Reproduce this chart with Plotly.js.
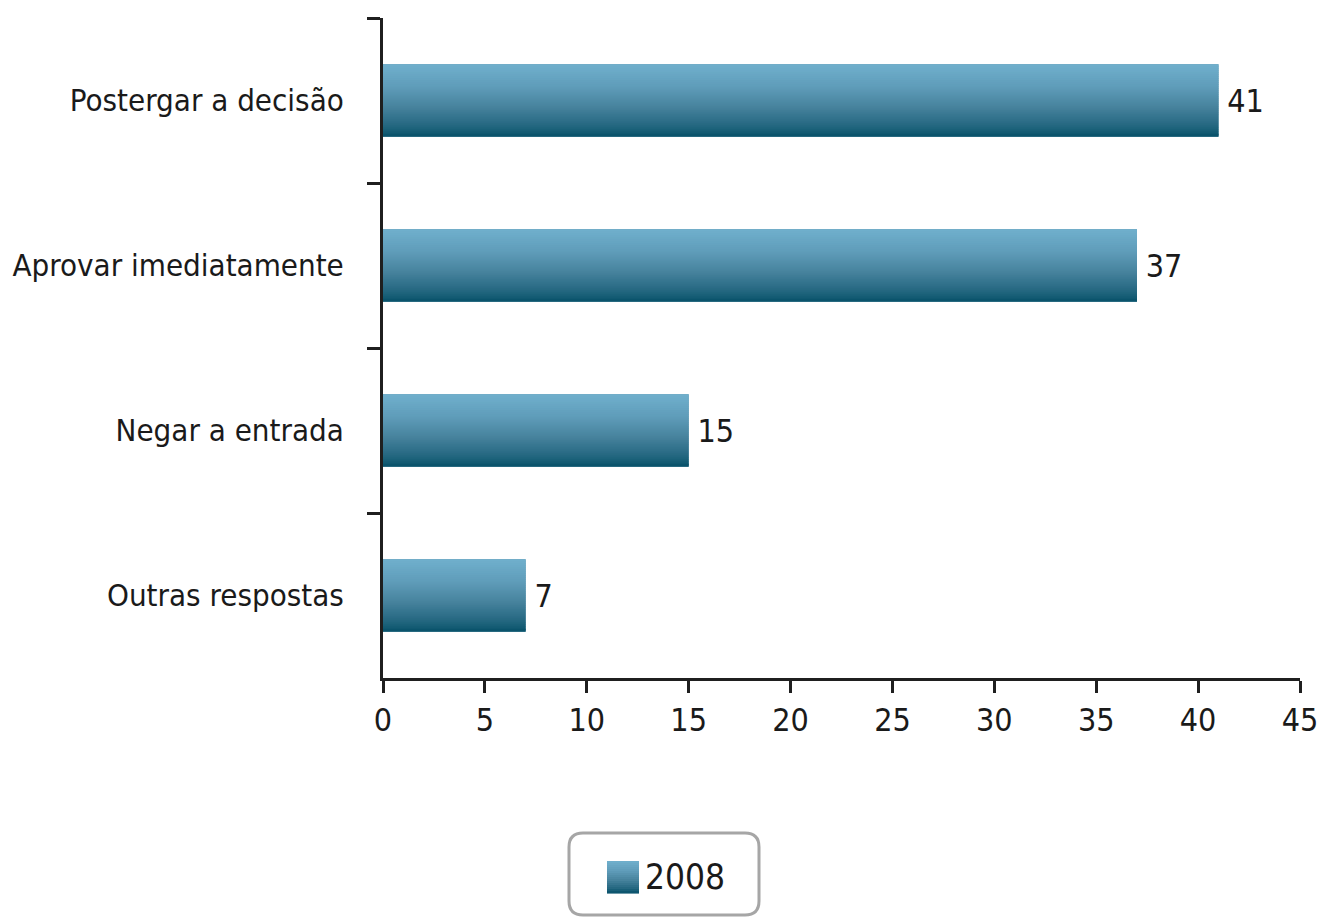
<!DOCTYPE html>
<html>
<head>
<meta charset="utf-8">
<script src="https://cdn.plot.ly/plotly-3.0.1.min.js"></script>
<style>
html,body{margin:0;padding:0;background:#fff;}
#chart{width:1322px;height:918px;}
</style>
</head>
<body>
<div id="chart"></div>
<script>
// ---- data ----
const categories = ["Postergar a decisão", "Aprovar imediatamente", "Negar a entrada", "Outras respostas"];
const values = [41, 37, 15, 7];
const seriesName = "2008";
const xTickVals = [0, 5, 10, 15, 20, 25, 30, 35, 40, 45];

// ---- style ----
const FONT = '"DejaVu Sans Condensed", "Liberation Sans Narrow", "Arial Narrow", sans-serif';
const W = 1322, H = 918;
const M = {l: 383, r: 22, t: 18, b: 240};
const BAR_W = 0.44;
const NSTRIPS = 36;
const stops = [
  [0.00, [112, 176, 205]],
  [0.30, [96, 157, 186]],
  [0.60, [70, 130, 156]],
  [0.85, [36, 103, 128]],
  [1.00, [8, 82, 106]]
];
function gradColor(t) {
  for (let i = 0; i < stops.length - 1; i++) {
    const [t0, c0] = stops[i], [t1, c1] = stops[i + 1];
    if (t >= t0 && t <= t1) {
      const f = (t - t0) / (t1 - t0);
      const c = c0.map((v, k) => Math.round(v + (c1[k] - v) * f));
      return `rgb(${c[0]},${c[1]},${c[2]})`;
    }
  }
  const c = stops[stops.length - 1][1];
  return `rgb(${c[0]},${c[1]},${c[2]})`;
}

const traces = [];
// base bar (carries the value labels)
traces.push({
  type: 'bar', orientation: 'h', name: seriesName,
  x: values, y: categories, width: BAR_W,
  marker: {color: gradColor(0.5), line: {width: 0}},
  text: values.map(String), textposition: 'outside', cliponaxis: false,
  texttemplate: '\u2009%{text}',
  textfont: {family: FONT, size: 32, color: '#1a1a1a'},
  hoverinfo: 'skip', showlegend: false
});
// gradient strips (top light -> bottom dark); y axis reversed so +offset = down
const s = BAR_W / NSTRIPS;
for (let i = 0; i < NSTRIPS; i++) {
  traces.push({
    type: 'bar', orientation: 'h', name: seriesName,
    x: values, y: categories,
    width: s + 0.004, offset: -BAR_W / 2 + i * s - (i === NSTRIPS - 1 ? 0.004 : 0),
    marker: {color: gradColor((i + 0.5) / NSTRIPS), line: {width: 0}},
    textposition: 'none', hoverinfo: 'skip', showlegend: false
  });
}

// legend drawn from shapes + annotation (pixel positions -> paper)
const PW = W - M.l - M.r, PH = H - M.t - M.b;
const px2x = px => (px - M.l) / PW;
const py2y = py => (H - M.b - py) / PH;
const shapes = [];
// rounded box
(function () {
  const x0 = 569, x1 = 759, y0 = 833, y1 = 915, r = 14;
  const X = px2x, Y = py2y;
  const path = `M ${X(x0 + r)} ${Y(y0)} L ${X(x1 - r)} ${Y(y0)} Q ${X(x1)} ${Y(y0)} ${X(x1)} ${Y(y0 + r)} ` +
    `L ${X(x1)} ${Y(y1 - r)} Q ${X(x1)} ${Y(y1)} ${X(x1 - r)} ${Y(y1)} ` +
    `L ${X(x0 + r)} ${Y(y1)} Q ${X(x0)} ${Y(y1)} ${X(x0)} ${Y(y1 - r)} ` +
    `L ${X(x0)} ${Y(y0 + r)} Q ${X(x0)} ${Y(y0)} ${X(x0 + r)} ${Y(y0)} Z`;
  shapes.push({type: 'path', xref: 'paper', yref: 'paper', path: path,
    line: {color: '#a6a6a6', width: 3}, fillcolor: 'rgba(0,0,0,0)'});
})();
// legend swatch with gradient
(function () {
  const x0 = 607, x1 = 639, y0 = 861, y1 = 893, n = 16;
  const h = (y1 - y0) / n;
  for (let i = 0; i < n; i++) {
    shapes.push({type: 'rect', xref: 'paper', yref: 'paper',
      x0: px2x(x0), x1: px2x(x1), y0: py2y(y0 + i * h), y1: py2y(y0 + (i + 1) * h + 0.6),
      fillcolor: gradColor((i + 0.5) / n), line: {width: 0}});
  }
})();

const layout = {
  width: W, height: H,
  margin: M,
  paper_bgcolor: '#fff', plot_bgcolor: '#fff',
  barmode: 'overlay',
  showlegend: false,
  font: {family: FONT, color: '#1a1a1a'},
  xaxis: {
    range: [0, 45], tickvals: xTickVals, ticktext: xTickVals.map(String),
    showgrid: false, zeroline: false,
    showline: true, linecolor: '#1f1f1f', linewidth: 3,
    ticks: 'outside', ticklen: 12, tickwidth: 3, tickcolor: '#1f1f1f',
    tickfont: {family: FONT, size: 32, color: '#1a1a1a'},
    fixedrange: true
  },
  yaxis: {
    type: 'category', categoryorder: 'array', categoryarray: categories,
    range: [3.5, -0.5], tickson: 'boundaries',
    showgrid: false, zeroline: false,
    showline: true, linecolor: '#1f1f1f', linewidth: 3,
    ticks: 'outside', ticklen: 13, tickwidth: 3, tickcolor: '#1f1f1f',
    ticklabelstandoff: 30,
    tickfont: {family: FONT, size: 31, color: '#1a1a1a'},
    fixedrange: true
  },
  shapes: shapes,
  annotations: [{
    xref: 'paper', yref: 'paper', x: px2x(643), y: py2y(877),
    xanchor: 'left', yanchor: 'middle', showarrow: false,
    text: seriesName, font: {family: FONT, size: 35, color: '#1a1a1a'}
  }]
};

Plotly.newPlot('chart', traces, layout, {displayModeBar: false, staticPlot: true});
</script>
</body>
</html>
